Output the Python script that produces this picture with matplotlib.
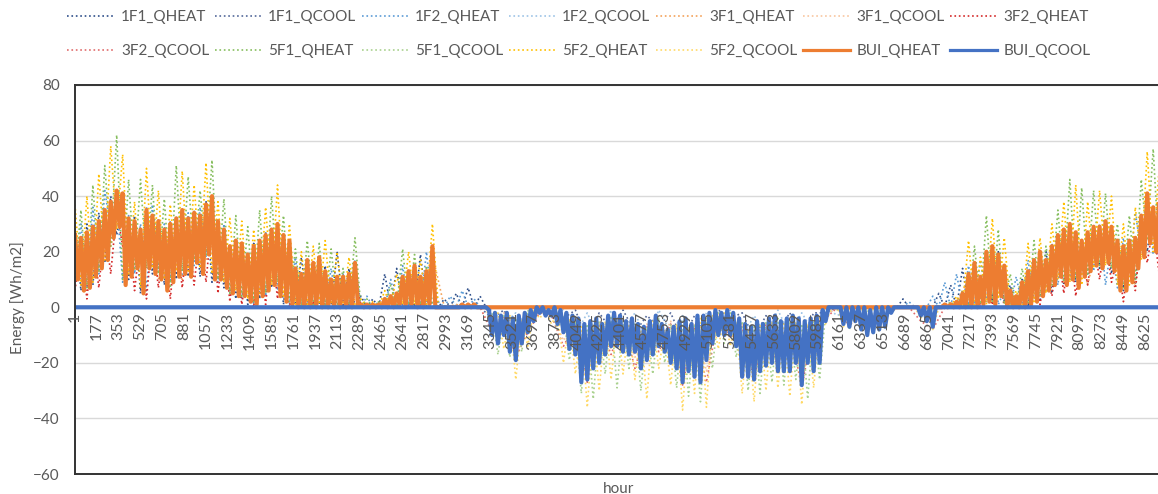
import numpy as np
import matplotlib
matplotlib.use('Agg')
import matplotlib.pyplot as plt
from matplotlib.lines import Line2D
from matplotlib.transforms import offset_copy

plt.rcParams['font.family'] = ['Lato', 'DejaVu Sans']

# sampling hours (daily / 2-day / 4-day samples of the 8760 h year)
hour_1d = np.arange(1, 8761, 24)
hour_2d = np.arange(1, 8761, 48)
hour_4d = np.arange(1, 8761, 96)

# building totals, one value per day (peak / trough alternating)
bui_qheat = [26, 10, 25, 6, 27, 7, 29, 11, 31, 14,
             35, 17, 38, 25, 42, 29, 41, 8, 32, 11,
             31, 14, 28, 5, 35, 14, 33, 12, 31, 10,
             28, 6, 30, 9, 32, 11, 35, 12, 32, 11,
             34, 16, 33, 12, 37, 19, 40, 10, 31, 10,
             28, 7, 22, 5, 24, 4, 23, 4, 19, 2,
             22, 1, 24, 4, 26, 6, 28, 8, 30, 4,
             26, 2, 24, 1, 14, 0, 12, 0, 17, 0,
             16, 0, 18, 0, 13, 0, 10, 0, 11, 0,
             11, 0, 12, 0, 16, 1, 1, 0, 1, 0,
             1, 0, 1, 0, 3, 0, 4, 0, 5, 1,
             11, 0, 13, 1, 15, 0, 11, 0, 13, 1,
             22, 0, 0, 0, 0, 0, 0, 0, 0, 0,
             1, 0, 1, 0, 1, 0, 0, 0, 0, 0] + [0] * 150 + \
            [0, 0, 1, 0, 1, 0, 2, 0, 5, 0,
             12, 0, 16, 0, 11, 1, 20, 2, 22, 1,
             19, 4, 15, 0, 6, 0, 4, 0, 9, 0,
             13, 1, 17, 2, 20, 4, 17, 6, 22, 8,
             26, 11, 28, 8, 30, 10, 27, 7, 24, 11,
             27, 13, 29, 15, 29, 14, 31, 16, 29, 13,
             24, 6, 22, 6, 24, 9, 25, 14, 33, 18,
             41, 23, 36, 20, 38]

bui_qcool = [0] * 139 + [-1] + \
            [-10, -2, -13, -3, -10, -2, -16, -4, -19, -3,
             -13, -2, -9, -1, -5, 0, -2, 0, -3, -1,
             -3, 0, -6, -1, -9, -2, -15, -3, -17, -4,
             -27, -6, -26, -5, -22, -4, -20, -6, -17, -3,
             -14, -2, -14, -3, -16, -5, -17, -4, -16, -6,
             -22, -7, -19, -5, -17, -3, -14, -6, -16, -8,
             -20, -7, -22, -5, -27, -4, -23, -6, -25, -3,
             -27, -3, -19, -2, -13, -1, -10, -2, -10, -1,
             -10, -2, -14, -4, -25, -6, -25, -7, -26, -5,
             -23, -6, -21, -4, -20, -3, -23, -5, -23, -4,
             -23, -3, -20, -4, -28, -5, -20, -4, -23, -3,
             -20, -1, -5, 0, 0, 0, 0, 0, -6, 0,
             -7, 0, -5, 0, -8, 0, -10, -1, -9, 0,
             -8, 0, -7, 0, -2, 0, 0, 0, 0, 0,
             0, 0, 0, 0, -3, 0, -5, 0, -7, 0] + [0] * 75

# zone values, every 2 days
f1f1_qheat = [28, 6, 30, 8, 34, 16, 40, 26, 38, 10,
              33, 5, 36, 12, 32, 8, 31, 10, 35, 11,
              35, 11, 38, 9, 30, 7, 22, 3, 23, 1,
              23, 3, 27, 7, 28, 1, 22, 0, 18, 0,
              16, 0, 15, 0, 20, 0, 14, 0, 4, 0,
              3, 0, 12, 0, 14, 0, 10, 0, 19, 0,
              17, 0, 3, 0, 5, 0, 7, 0, 4, 0] + [0] * 69 + \
             [3, 0, 0, 0, 0, 0, 5, 0, 8, 0,
              14, 0, 12, 1, 18, 2, 20, 2, 8, 0,
              10, 0, 16, 2, 20, 5, 20, 8, 26, 9,
              24, 12, 28, 14, 29, 12, 22, 6, 24, 8,
              32, 20, 36, 17]

f1f2_qheat = [9, 30, 7, 36, 12, 42, 28, 39, 9, 33,
              12, 30, 6, 37, 14, 30, 9, 33, 11, 34,
              15, 36, 18, 40, 9, 30, 5, 21, 3, 19,
              1, 24, 4, 28, 6, 25, 1, 18, 0, 17,
              0, 18, 0, 14, 0, 12, 0, 17, 0, 4,
              0, 2, 0, 10, 0, 15, 0, 12, 0, 20,
              0, 2, 0, 4, 0, 6, 0, 3, 0, 0] + [0] * 69 + \
             [0, 2, 0, 0, 0, 4, 0, 9, 0, 12,
              0, 15, 1, 17, 2, 21, 1, 6, 0, 11,
              1, 17, 3, 18, 6, 23, 8, 27, 10, 26,
              12, 27, 13, 30, 8, 23, 7, 25, 12, 34,
              20, 40, 19, 37]

f5f2_qheat = [37, 8, 40, 9, 48, 17, 58, 28, 55, 12,
              38, 7, 50, 14, 42, 10, 37, 13, 49, 13,
              44, 14, 52, 12, 38, 9, 32, 6, 31, 3,
              28, 5, 36, 8, 44, 4, 30, 1, 20, 1,
              22, 1, 24, 1, 20, 1, 18, 1, 3, 0,
              2, 0, 6, 0, 12, 1, 20, 1, 17, 1,
              30, 0] + [0] * 83 + \
             [0, 1, 0, 4, 0, 24, 0, 18, 1, 32,
              3, 25, 0, 6, 0, 23, 2, 25, 5, 30,
              10, 38, 9, 44, 8, 38, 14, 42, 15, 40,
              8, 30, 8, 36, 17, 56, 20, 50]

f5f1_qheat = [12, 35, 7, 44, 13, 51, 22, 62, 10, 46,
              14, 46, 14, 44, 12, 39, 7, 51, 13, 47,
              17, 42, 19, 53, 10, 39, 5, 33, 4, 29,
              2, 35, 5, 40, 9, 33, 2, 21, 0, 24,
              0, 23, 0, 21, 0, 14, 0, 25, 0, 3,
              0, 2, 0, 8, 0, 21, 0, 19, 0, 15,
              1, 0] + [0] * 83 + \
             [0, 0, 2, 0, 6, 0, 22, 1, 33, 2,
              28, 1, 12, 0, 14, 1, 24, 4, 22, 8,
              35, 9, 46, 10, 43, 12, 42, 15, 41, 14,
              30, 7, 33, 10, 46, 24, 57, 18]

f3f2_qheat = [6, 22, 3, 25, 7, 30, 12, 35, 22, 28,
              6, 25, 3, 27, 7, 24, 3, 26, 7, 27,
              8, 28, 9, 33, 5, 24, 2, 19, 1, 16,
              0, 20, 1, 23, 3, 21, 0, 11, 0, 13,
              0, 14, 0, 8, 0, 9, 0, 12, 0, 0,
              0, 1, 0, 3, 0, 9, 0, 11, 0, 10,
              0, 0] + [0] * 83 + \
             [0, 0, 0, 0, 3, 0, 12, 0, 16, 0,
              15, 0, 4, 0, 7, 0, 13, 1, 14, 4,
              21, 5, 24, 4, 20, 8, 24, 10, 25, 9,
              18, 2, 19, 6, 27, 16, 30, 12]

f5f2_qcool = [0] * 69 + \
             [0, -8, -2, -15, -3, -26, -4, -14, -1, -4,
              -1, -6, -2, -20, -4, -24, -7, -36, -6, -30,
              -5, -26, -4, -24, -6, -26, -8, -33, -5, -22,
              -8, -28, -6, -37, -7, -31, -4, -36, -3, -15,
              -2, -14, -5, -31, -8, -34, -6, -30, -5, -29,
              -6, -32, -5, -35, -6, -29, -4, -6, 0, 0,
              -7, 0, -6, 0, -11, 0, -9, 0, -2, 0,
              0, 0, 0, -4, 0, -8] + [0] * 38

f5f1_qcool = [0] * 69 + \
             [0, -2, -17, -3, -18, -4, -16, -1, -5, 0,
              -3, -1, -8, -3, -19, -5, -31, -6, -33, -5,
              -24, -3, -29, -5, -22, -6, -30, -7, -24, -4,
              -20, -6, -29, -5, -32, -6, -34, -4, -22, -2,
              -13, -2, -18, -5, -30, -7, -31, -5, -27, -4,
              -28, -5, -26, -6, -33, -5, -26, -2, 0, -1,
              0, -8, 0, -7, 0, -10, 0, -6, 0, 0,
              0, 0, 0, 0, -5, 0] + [0] * 38

# zone values, every 4 days
f1f1_qcool = [0] * 35 + \
             [-4, -1, -9, -2, -1, 0, -4, -1, -12, -2,
              -8, -1, -9, -3, -7, -2, -12, -3, -10, -1,
              -4, -2, -11, -3, -9, -2, -12, -2, -2, 0,
              -4, 0, -5, 0] + [0] * 23

f1f2_qcool = [0] * 35 + \
             [-1, -6, -2, -7, 0, -2, -1, -10, -2, -12,
              -1, -9, -2, -12, -1, -9, -3, -13, -2, -6,
              -1, -11, -3, -10, -1, -10, -2, -9, 0, -3,
              0, -4, 0, -2] + [0] * 23

f3f1_qheat = [24, 8, 30, 22, 38, 13, 32, 10, 28, 10,
              31, 17, 28, 5, 20, 2, 24, 7, 22, 1,
              14, 0, 10, 0, 1, 0, 3, 1, 12, 0,
              19, 0, 1, 0, 0] + [0] * 38 + \
             [1, 2, 10, 1, 19, 3, 3, 12, 4, 20,
              9, 27, 8, 27, 14, 20, 8, 38, 18]

f3f1_qcool = [0] * 35 + \
             [-8, -2, -16, -8, -1, -2, -12, -4, -24, -5,
              -15, -4, -18, -6, -14, -5, -24, -6, -23, -2,
              -9, -6, -23, -5, -20, -6, -24, -5, -3] + [0] * 28

f3f2_qcool = [0] * 35 + \
             [-9, -3, -18, -9, -2, -3, -14, -6, -27, -6,
              -17, -5, -22, -7, -16, -6, -28, -7, -27, -3,
              -11, -7, -26, -6, -22, -7, -29, -6, -4,
              0, -7, 0, -8, 0, 0, 0, -5, -8] + [0] * 19

tick_hours = list(range(1, 8761, 176))

# legend order = drawing order (Excel series order)
series = [
    ('1F1_QHEAT', hour_2d, f1f1_qheat, '#2F4F8A', ':', 1.2),
    ('1F1_QCOOL', hour_4d, f1f1_qcool, '#53689A', ':', 1.2),
    ('1F2_QHEAT', hour_2d, f1f2_qheat, '#5B9BD5', ':', 1.2),
    ('1F2_QCOOL', hour_4d, f1f2_qcool, '#9DC3E6', ':', 1.2),
    ('3F1_QHEAT', hour_4d, f3f1_qheat, '#F4A25A', ':', 1.2),
    ('3F1_QCOOL', hour_4d, f3f1_qcool, '#F8C6A0', ':', 1.2),
    ('3F2_QHEAT', hour_2d, f3f2_qheat, '#D42A2A', ':', 1.2),
    ('3F2_QCOOL', hour_4d, f3f2_qcool, '#E06C6C', ':', 1.2),
    ('5F1_QHEAT', hour_2d, f5f1_qheat, '#86BE5E', ':', 1.2),
    ('5F1_QCOOL', hour_2d, f5f1_qcool, '#A9D18E', ':', 1.2),
    ('5F2_QHEAT', hour_2d, f5f2_qheat, '#FFC000', ':', 1.2),
    ('5F2_QCOOL', hour_2d, f5f2_qcool, '#FFD966', ':', 1.2),
    ('BUI_QHEAT', hour_1d, bui_qheat, '#ED7D31', '-', 3.0),
    ('BUI_QCOOL', hour_1d, bui_qcool, '#4472C4', '-', 3.0),
]

fig = plt.figure(figsize=(11.58, 4.94), dpi=100)
ax = fig.add_axes([75 / 1158, 20 / 494, 1087 / 1158, 389 / 494])

handles = []
for name, hrs, vals, col, ls, lw in series:
    ax.plot(hrs, vals, color=col, linestyle=ls, linewidth=lw)
    handles.append(Line2D([], [], color=col, linestyle=ls, linewidth=min(lw, 2.3)))

ax.set_xlim(1, 8760)
ax.set_ylim(-60, 80)
ax.set_yticks(range(-60, 81, 20))
ax.set_xticks([])
ax.tick_params(axis='y', length=0, pad=11, labelsize=11, labelcolor='#595959')
ax.grid(axis='y', color='#d9d9d9', linewidth=1)
ax.set_axisbelow(True)
for sp in ax.spines.values():
    sp.set_color('#333333')
    sp.set_linewidth(1.4)

# category labels sit on the zero line (Excel axis crosses at 0)
trans = offset_copy(ax.transData, fig=fig, x=0, y=-5, units='dots')
for h in tick_hours:
    ax.text(h, 0, str(h), rotation=90, ha='center', va='top', transform=trans,
            fontsize=11.5, color='#595959', zorder=10)

fig.text(619 / 1158, 1 - 482 / 494, 'hour', ha='center', va='top', fontsize=11, color='#595959')
fig.text(18 / 1158, 1 - 298 / 494, 'Energy [Wh/m2]', rotation=90, ha='center', va='center',
         fontsize=11, color='#595959')

names = [s[0] for s in series]
order = []
for c in range(7):
    order += [c, c + 7]
fig.legend([handles[i] for i in order], [names[i] for i in order], ncol=7, loc='upper center',
           bbox_to_anchor=(0.5, 1 - 10 / 494), frameon=False, fontsize=11, labelcolor='#595959',
           handlelength=3.1, handletextpad=0.4, columnspacing=0.35, labelspacing=1.3,
           borderpad=0, borderaxespad=0)

fig.savefig('out.png', dpi=100)
